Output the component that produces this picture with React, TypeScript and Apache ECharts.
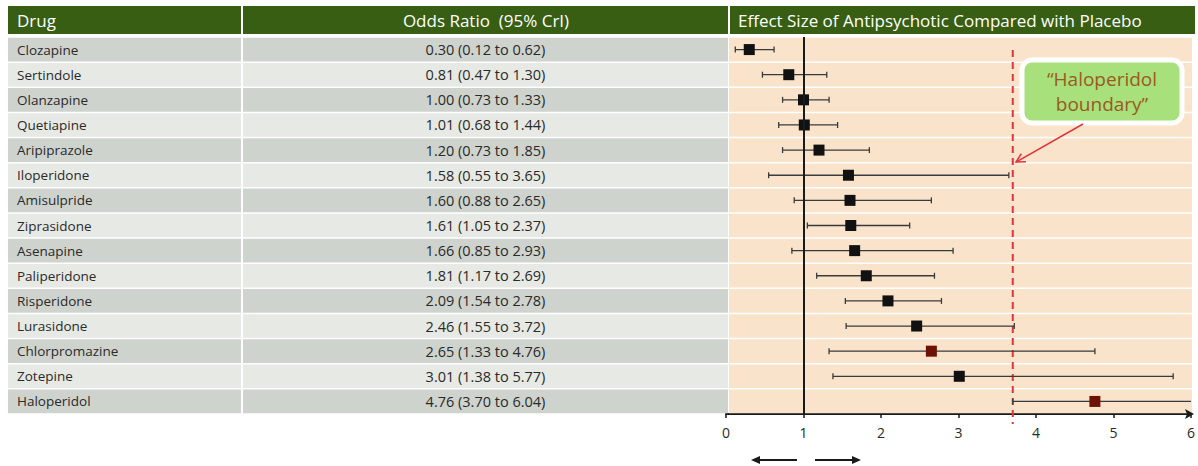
import React, { useEffect, useRef } from "react";
import * as echarts from "echarts";

const drugs = ["Clozapine", "Sertindole", "Olanzapine", "Quetiapine", "Aripiprazole", "Iloperidone", "Amisulpride", "Ziprasidone", "Asenapine", "Paliperidone", "Risperidone", "Lurasidone", "Chlorpromazine", "Zotepine", "Haloperidol"];
const oddsRatio = [0.30, 0.81, 1.00, 1.01, 1.20, 1.58, 1.60, 1.61, 1.66, 1.81, 2.09, 2.46, 2.65, 3.01, 4.76];
const ciLow = [0.12, 0.47, 0.73, 0.68, 0.73, 0.55, 0.88, 1.05, 0.85, 1.17, 1.54, 1.55, 1.33, 1.38, 3.70];
const ciHigh = [0.62, 1.30, 1.33, 1.44, 1.85, 3.65, 2.65, 2.37, 2.93, 2.69, 2.78, 3.72, 4.76, 5.77, 6.04];
const highlighted = ["Chlorpromazine", "Haloperidol"];
const xTicks = [0, 1, 2, 3, 4, 5, 6];
const headers = ["Drug", "Odds Ratio  (95% CrI)", "Effect Size of Antipsychotic Compared with Placebo"];
const calloutLines = ["\u201CHaloperidol", "boundary\u201D"];
const referenceValue = 1;
const boundaryValue = ciLow[ciLow.length - 1];
const xMax = xTicks[xTicks.length - 1];

const FONT = "'Open Sans', 'Noto Sans', sans-serif";
const GREEN = "#375e12";
const ROW_DARK = "#cfd3ce";
const ROW_LIGHT = "#e7e9e5";
const PEACH = "#f9e4cb";
const TEXT = "#2a2a2a";

const fmt = (v: number) => v.toFixed(2);

export default function App() {
  const ref = useRef<HTMLDivElement>(null);

  useEffect(() => {
    if (!ref.current) return;
    const chart = echarts.init(ref.current, undefined, { renderer: "svg" });

    // callout arrow geometry
    const tail = [1083, 124];
    const tip = [1016, 162];
    const dx = tail[0] - tip[0];
    const dy = tail[1] - tip[1];
    const len = Math.hypot(dx, dy);
    const rx = dx / len, ry = dy / len;
    const ang = (28 * Math.PI) / 180;
    const head1 = [tip[0] + 10 * (rx * Math.cos(ang) - ry * Math.sin(ang)), tip[1] + 10 * (rx * Math.sin(ang) + ry * Math.cos(ang))];
    const head2 = [tip[0] + 10 * (rx * Math.cos(ang) + ry * Math.sin(ang)), tip[1] + 10 * (-rx * Math.sin(ang) + ry * Math.cos(ang))];

    const txt = (x: number, y: number, text: string, size: number, align: string, fill = "#ffffff", z = 0) => ({
      type: "text",
      x,
      y,
      z,
      style: { text, fill, fontSize: size, fontFamily: FONT, align, verticalAlign: "middle", textAlign: align, textVerticalAlign: "middle" },
    });

    const option: any = {
      animation: false,
      textStyle: { fontFamily: FONT },
      grid: [
        { left: 726, right: 4, top: 37, bottom: 52 },
        { left: 8, right: 470, top: 37, bottom: 52 },
      ],
      xAxis: [
        {
          type: "value",
          gridIndex: 0,
          min: xTicks[0],
          max: xMax,
          interval: 1,
          splitLine: { show: false },
          axisLine: {
            show: true,
            onZero: false,
            lineStyle: { color: "#1a1a1a", width: 2 },
          },
          axisTick: { show: true, length: 4, lineStyle: { color: "#1a1a1a", width: 1.5 } },
          axisLabel: { color: TEXT, fontSize: 14, margin: 11, fontFamily: FONT },
        },
        { type: "value", gridIndex: 1, min: 0, max: 720, show: false },
      ],
      yAxis: [
        { type: "category", gridIndex: 0, data: drugs, inverse: true, show: false },
        { type: "category", gridIndex: 1, data: drugs, inverse: true, show: false },
      ],
      series: [
        // table rows
        {
          type: "custom",
          xAxisIndex: 1,
          yAxisIndex: 1,
          z: 1,
          data: drugs.map((_, i) => [i]),
          encode: { y: 0 },
          renderItem: (params: any, api: any) => {
            const i = api.value(0);
            const [x0, yc] = api.coord([0, i]);
            const h = api.size([0, 1])[1];
            const [xa] = api.coord([233, i]);
            const [xb] = api.coord([235, i]);
            const [xc] = api.coord([720, i]);
            const fill = i % 2 === 0 ? ROW_DARK : ROW_LIGHT;
            const y = yc - h / 2 + 0.75;
            const hh = h - 1.5;
            const label = `${fmt(oddsRatio[i])} (${fmt(ciLow[i])} to ${fmt(ciHigh[i])})`;
            return {
              type: "group",
              children: [
                { type: "rect", shape: { x: x0, y, width: xa - x0, height: hh }, style: { fill } },
                { type: "rect", shape: { x: xb, y, width: xc - xb, height: hh }, style: { fill } },
                {
                  type: "text",
                  style: { x: x0 + 9, y: yc, text: drugs[i], fill: TEXT, fontSize: 13.5, fontFamily: FONT, align: "left", verticalAlign: "middle", textAlign: "left", textVerticalAlign: "middle" },
                },
                {
                  type: "text",
                  style: { x: (xb + xc) / 2, y: yc, text: label, fill: TEXT, fontSize: 14.5, fontFamily: FONT, align: "center", verticalAlign: "middle", textAlign: "center", textVerticalAlign: "middle" },
                },
              ],
            };
          },
        },
        // peach bands
        {
          type: "custom",
          xAxisIndex: 0,
          yAxisIndex: 0,
          z: 1,
          data: drugs.map((_, i) => [i]),
          encode: { y: 0 },
          renderItem: (params: any, api: any) => {
            const i = api.value(0);
            const [xL, yc] = api.coord([0, i]);
            const [xR] = api.coord([xMax, i]);
            const h = api.size([0, 1])[1];
            return {
              type: "rect",
              shape: { x: xL + 3, y: yc - h / 2 + 0.75, width: xR + 1 - (xL + 3), height: h - 1.5 },
              style: { fill: PEACH },
            };
          },
        },
        // error bars
        {
          type: "custom",
          xAxisIndex: 0,
          yAxisIndex: 0,
          z: 3,
          clip: false,
          data: drugs.map((_, i) => [i, ciLow[i], ciHigh[i]]),
          encode: { y: 0, x: [1, 2] },
          renderItem: (params: any, api: any) => {
            const i = api.value(0);
            const lo = api.value(1);
            const hi = api.value(2);
            const [x1, yc] = api.coord([lo, i]);
            const [x2] = api.coord([Math.min(hi, xMax), i]);
            const style = { stroke: "#3a3a3a", lineWidth: 1.3 };
            const children: any[] = [
              { type: "line", shape: { x1, y1: yc, x2, y2: yc }, style },
              { type: "line", shape: { x1, y1: yc - 3, x2: x1, y2: yc + 3 }, style },
            ];
            if (hi <= xMax) children.push({ type: "line", shape: { x1: x2, y1: yc - 3, x2, y2: yc + 3 }, style });
            return { type: "group", children };
          },
          markLine: {
            silent: true,
            symbol: "none",
            label: { show: false },
            lineStyle: { color: "#1a1a1a", width: 2, type: "solid" },
            data: [{ xAxis: referenceValue }],
          },
        },
        // haloperidol boundary
        {
          type: "custom",
          xAxisIndex: 0,
          yAxisIndex: 0,
          z: 2,
          clip: false,
          data: [[boundaryValue, drugs.length - 1]],
          encode: { x: 0, y: 1 },
          renderItem: (params: any, api: any) => {
            const v = api.value(0);
            const [x, yTopC] = api.coord([v, 0]);
            const [, yBotC] = api.coord([v, drugs.length - 1]);
            const h = api.size([0, 1])[1];
            return {
              type: "line",
              shape: { x1: x, y1: yTopC - h / 2 + 13, x2: x, y2: yBotC + h / 2 + 10 },
              style: { stroke: "#e0343a", lineWidth: 2, lineDash: [7, 5] },
            };
          },
        },
        // axis arrowhead at the end of the x axis
        {
          type: "custom",
          xAxisIndex: 0,
          yAxisIndex: 0,
          z: 6,
          clip: false,
          data: [[xMax, drugs.length - 1]],
          encode: { x: 0, y: 1 },
          renderItem: (params: any, api: any) => {
            const [x, yc] = api.coord([api.value(0), api.value(1)]);
            const h = api.size([0, 1])[1];
            const y = yc + h / 2;
            return {
              type: "polygon",
              shape: { points: [[x + 3, y], [x - 6, y - 5], [x - 4, y], [x - 6, y + 5]] },
              style: { fill: "#1a1a1a" },
            };
          },
        },
        // point estimates
        {
          type: "scatter",
          xAxisIndex: 0,
          yAxisIndex: 0,
          z: 4,
          symbol: "rect",
          symbolSize: 11,
          data: drugs.map((d, i) => ({
            value: [oddsRatio[i], i],
            itemStyle: { color: highlighted.includes(d) ? "#6e1206" : "#111111", opacity: 1 },
          })),
        },
      ],
      graphic: [
        { type: "rect", shape: { x: 8, y: 6, width: 233, height: 28 }, style: { fill: GREEN } },
        { type: "rect", shape: { x: 243, y: 6, width: 485, height: 28 }, style: { fill: GREEN } },
        { type: "rect", shape: { x: 730, y: 6, width: 465, height: 28 }, style: { fill: GREEN } },
        txt(17, 20, headers[0], 17, "left"),
        txt(486, 20, headers[1], 17, "center"),
        txt(738, 20, headers[2], 17, "left"),
        // callout
        { type: "rect", z: 10, shape: { x: 1022, y: 60, width: 160, height: 63, r: 10 }, style: { fill: "#a8e07c", stroke: "#ffffff", lineWidth: 5 } },
        txt(1102, 79, calloutLines[0], 19, "center", "#9a5a20", 11),
        txt(1102, 103.5, calloutLines[1], 19, "center", "#9a5a20", 11),
        { type: "line", z: 10, shape: { x1: tail[0], y1: tail[1], x2: tip[0], y2: tip[1] }, style: { stroke: "#e0343a", lineWidth: 1.5 } },
        { type: "polyline", z: 10, shape: { points: [head1, tip, head2] }, style: { stroke: "#e0343a", lineWidth: 1.5, fill: "none" } },
        // direction arrows
        { type: "line", shape: { x1: 797, y1: 460, x2: 758, y2: 460 }, style: { stroke: "#1a1a1a", lineWidth: 2 } },
        { type: "polygon", shape: { points: [[751, 460], [760, 456], [760, 464]] }, style: { fill: "#1a1a1a" } },
        { type: "line", shape: { x1: 815, y1: 460, x2: 854, y2: 460 }, style: { stroke: "#1a1a1a", lineWidth: 2 } },
        { type: "polygon", shape: { points: [[861, 460], [852, 456], [852, 464]] }, style: { fill: "#1a1a1a" } },
      ],
    };

    chart.setOption(option);
    return () => chart.dispose();
  }, []);

  return <div ref={ref} style={{ width: 1198, height: 466, position: "absolute", left: 0, top: 0 }} />;
}
